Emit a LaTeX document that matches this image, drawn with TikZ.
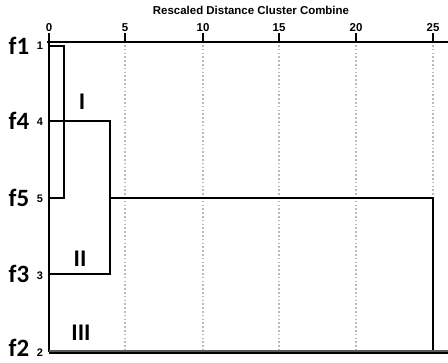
\documentclass[tikz,border=0pt]{standalone}
\usepackage{fontspec}
\setmainfont{Liberation Sans}
\newfontfamily\calfont{Carlito}
\begin{document}
\begin{tikzpicture}[x=1bp,y=-1bp,
  link/.style={line width=2.2bp,black},
  grid/.style={gray!55,line width=1.6bp,dash pattern=on 1.6bp off 2.2bp},
  leaf/.style={font=\calfont\bfseries\fontsize{25}{25}\selectfont,anchor=center,inner sep=0pt},
  idx/.style={font=\bfseries\fontsize{11}{11}\selectfont,anchor=center,inner sep=0pt},
  ax/.style={font=\bfseries\fontsize{11.5}{11.5}\selectfont,anchor=base,inner sep=0pt},
  roman/.style={font=\calfont\bfseries\fontsize{24}{24}\selectfont,anchor=center,inner sep=0pt}]
\useasboundingbox (0,0) rectangle (448,362);
\fill[white] (0,0) rectangle (448,362);
% title
\node[font=\bfseries\fontsize{11.5}{11.5}\selectfont,inner sep=0pt] (title) at (251,10) {Rescaled Distance Cluster Combine};
% grid lines
\foreach \v/\xx in {5/125,10/203,15/279,20/356} {
  \draw[grid] (\xx,45) -- (\xx,351);
}
\draw[grid] (433,45) -- (433,197);
% axis
\coordinate (axL) at (47,42);
\coordinate (axR) at (448,42);
\draw[line width=2.6bp] (axL) -- (axR);
\foreach \v/\xx in {0/49,5/125,10/203,15/279,20/356,25/433} {
  \draw[line width=1.8bp] (\xx,33) -- (\xx,42);
  \node[ax] (t\v) at (\xx,31) {\v};
}
% leaves
\coordinate (l1) at (49,46);
\coordinate (l4) at (49,121);
\coordinate (l5) at (49,198);
\coordinate (l3) at (49,274);
\coordinate (l2) at (49,352);
\node[leaf] (f1) at (19,46) {f1};
\node[leaf] (f4) at (19,121) {f4};
\node[leaf] (f5) at (19,198) {f5};
\node[leaf] (f3) at (19,274) {f3};
\node[leaf] (f2) at (19,348) {f2};
\node[idx] (n1) at (40,46) {1};
\node[idx] (n4) at (40,122) {4};
\node[idx] (n5) at (40,199) {5};
\node[idx] (n3) at (40,276) {3};
\node[idx] (n2) at (40,353) {2};
% left spine
\draw[link] (axL -| l1) -- (l2);
% clusters
\coordinate (m15) at (64,46);
\coordinate (m15b) at (64,198);
\draw[link] (l1) -- (m15) -- (m15b) -- (l5);
\coordinate (m43) at (110,121);
\coordinate (m43b) at (110,274);
\draw[link] (l4) -- (m43) -- (m43b) -- (l3);
\coordinate (jn) at (110,198);
\coordinate (top) at (433,198);
\coordinate (bot) at (433,351);
\draw[link,line width=2.6bp] (jn) -- (top) -- (bot);
% bottom line
\coordinate (bR) at (448,352);
\draw[line width=4bp,gray!70!black] (l2) -- (bR);
\draw[line width=1.5bp,black] ([yshift=-1bp]l2) -- ([yshift=-1bp]bR);
% roman labels
\node[roman] (r1) at (82,102) {I};
\node[roman] (r2) at (80,259) {II};
\node[roman] (r3) at (81,333) {III};
\end{tikzpicture}
\end{document}
